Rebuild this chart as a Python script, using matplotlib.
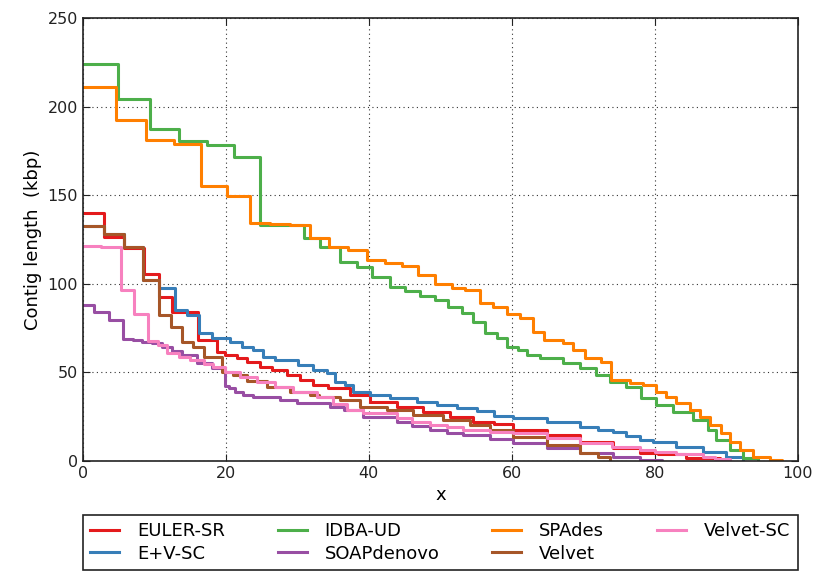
import numpy as np
import matplotlib
matplotlib.use("Agg")
import matplotlib.pyplot as plt

# step start positions (x) and contig lengths (kbp)
euler_x = [0, 2.9, 5.7, 8.5, 10.7, 12.5, 16.1, 18.7, 19.9, 21.5, 22.9, 24.8, 26.4, 28.5, 30.3, 32.2,
           34.3, 37.3, 40.1, 43.9, 47.6, 51.3, 54.6, 57.5, 60.2, 64.9, 69.5, 74.1, 77.9, 80.5, 84.4, 89.1]
euler_y = [139.8, 126.6, 120, 105.4, 92.7, 83.9, 68.3, 61.7, 59.8, 58, 56, 53.2, 51.4, 48.5, 45.7, 42.9,
           41, 37.2, 33.5, 30.7, 27.8, 25, 22.2, 21, 17.5, 14.7, 10.9, 7.2, 4.3, 3.8, 1.5, 0]

evsc_x = [0, 2.9, 5.7, 8.4, 10.7, 12.9, 14.6, 16.3, 18.0, 20.6, 22.2, 23.8, 25.2, 26.9, 30.1, 32.2, 34.1,
          35.2, 36.6, 37.8, 40.1, 42.9, 46.7, 49.5, 52.3, 55.1, 57.5, 60.2, 64.9, 69.5, 72, 74.1, 76,
          77.9, 79.8, 83, 86.8, 90, 92.3]
evsc_y = [132.8, 127.9, 120.9, 102.1, 97.5, 85.2, 82.4, 72.1, 69.2, 67.3, 64.5, 62.6, 58.9, 57, 54.2,
          51.4, 49.5, 44.8, 42.9, 39.1, 37.2, 35.4, 33.5, 31.6, 29.7, 28.0, 25.5, 24.1, 22.2, 19.4, 17.5,
          16.5, 14, 11.9, 10.9, 8.1, 5.2, 2.4, 0]

idba_x = [0, 4.94, 9.37, 13.4, 17.3, 21.1, 24.8, 30.9, 33.2, 35.9, 38.3, 40.5, 42.9, 45, 47.1, 49.2,
          51.1, 53, 54.6, 56.2, 57.9, 59.3, 60.9, 62.1, 64, 67.2, 69.5, 71.8, 73.7, 76, 78.1, 80.2,
          82.6, 85.4, 87.5, 88.6, 90.5, 92.3, 94.5]
idba_y = [224, 204.3, 187.4, 180.8, 178.3, 171.7, 133.2, 125.7, 120.9, 112.5, 109.7, 104, 98, 96.1,
          93.3, 90.9, 87.1, 83.4, 78.6, 72.1, 69.2, 64.5, 62.6, 59.8, 58, 55.1, 52.3, 48.5, 44.8, 41.9,
          35.4, 31.6, 27.8, 23.1, 17.5, 11.9, 6.2, 1.5, 0]

soap_x = [0, 1.54, 3.68, 5.55, 6.95, 8.2, 9.6, 11, 12.5, 13.8, 16, 18, 19.9, 20.5, 21.3, 22.4, 23.8,
          27.6, 29.9, 34.5, 36.5, 39.2, 43.9, 46, 48.5, 51, 53.2, 56.9, 60.2, 64.9, 69.5, 74.1, 77.9, 81]
soap_y = [88, 83.9, 79.6, 68.8, 68.3, 67.3, 66.4, 64.5, 62.1, 60, 55.1, 52.3, 42.3, 41, 39.1, 37.2,
          36.3, 34.4, 32.6, 30.6, 28.8, 25, 22.2, 20, 17.5, 16, 14.7, 12.5, 10, 7.2, 4.3, 2.4, 0.8, 0]

spades_x = [0, 4.57, 8.77, 12.7, 16.5, 20.1, 23.3, 26.1, 29, 31.7, 34.4, 37.1, 39.7, 42.2, 44.6, 46.9,
            49.2, 51.6, 53.4, 55.5, 57.4, 59.3, 61.1, 63, 64.5, 67.2, 68.6, 70.2, 72.5, 73.9, 76.5,
            78.4, 80.2, 81.6, 83, 84.9, 86.3, 87.7, 89.3, 90.5, 91.9, 93.8, 96.1, 97.8]
spades_y = [210.9, 192.4, 181.2, 178.9, 155.4, 149.7, 134.5, 133.7, 133.2, 125.7, 120.9, 119.1, 113.4,
            111.9, 110.2, 105, 99.7, 97.8, 96.5, 89, 87.1, 82.8, 80.5, 72.6, 68.3, 66.4, 62.6, 58, 56,
            45.7, 43.8, 42.9, 39.1, 36.3, 32.6, 28.8, 25, 20.3, 15.6, 10.9, 6.2, 2.4, 0.6, 0]

velvet_x = [0, 2.9, 5.7, 8.4, 10.7, 12.3, 13.9, 15.4, 16.9, 19.4, 21, 23, 25.7, 29, 31.7, 33, 35.9,
            38.7, 42.5, 46.2, 50.4, 54.1, 56.9, 60.2, 64.9, 69.5, 72, 73.7]
velvet_y = [132.8, 127.9, 120.9, 102.1, 82.4, 75.8, 67.3, 64.5, 58.9, 50.4, 48.5, 45, 41.9, 39.1,
            37.2, 36.3, 34.4, 30.6, 28.8, 26, 23.1, 20.3, 17.5, 13.7, 9, 4.3, 2, 0]

vsc_x = [0, 2.5, 5.3, 7.2, 9.1, 10.5, 11.8, 13.5, 15, 17, 18.2, 19.9, 22, 24.3, 26.9, 29.4, 32.7, 35,
         37, 39.2, 43.9, 46, 48.5, 51, 53.2, 57, 60.2, 64.9, 69.5, 74, 78, 80, 83, 86.8, 88.5, 90.5]
vsc_y = [121.5, 120.6, 96.5, 82.8, 67.7, 65.5, 60.8, 58.5, 57, 55, 53.2, 50.4, 47.6, 44.8, 41.9, 39.1,
         36.3, 32, 29, 26.9, 24.1, 22, 20.3, 19, 17.5, 16.5, 15.6, 12.8, 10, 8.1, 6.5, 5.2, 4, 2.4, 1, 0]

series = [
    ("EULER-SR", euler_x, euler_y, "#e41a1c"),
    ("E+V-SC", evsc_x, evsc_y, "#377eb8"),
    ("IDBA-UD", idba_x, idba_y, "#4daf4a"),
    ("SOAPdenovo", soap_x, soap_y, "#984ea3"),
    ("SPAdes", spades_x, spades_y, "#ff7f00"),
    ("Velvet", velvet_x, velvet_y, "#a65628"),
    ("Velvet-SC", vsc_x, vsc_y, "#f781bf"),
]

fig = plt.figure(figsize=(8.3, 5.72), dpi=100)
ax = fig.add_axes([0.1, 0.194, 0.861, 0.7745])

for name, xs, ys, col in series:
    ax.plot(xs, ys, drawstyle="steps-post", color=col, lw=2.2, label=name)

ax.set_xlim(0, 100)
ax.set_ylim(0, 250)
ax.set_xticks(np.arange(0, 101, 20))
ax.set_yticks(np.arange(0, 251, 50))
ax.grid(True, color="#333333", linestyle=(0, (1, 3)), linewidth=0.8)
ax.tick_params(direction="in", labelsize=11.5, length=5, top=True, right=True, colors="#222222")
for s in ax.spines.values():
    s.set_linewidth(1.2)
    s.set_color("#222222")
ax.set_xlabel("x", fontsize=13)
ax.set_ylabel("Contig length  (kbp)", fontsize=13)

# legend box sits under the axes, spanning its full width
leg = ax.legend(loc="upper left", bbox_to_anchor=(0, -0.222, 1.0, 0.1), mode="expand", ncol=4,
                fontsize=13, handlelength=1.6, handletextpad=1.0, borderaxespad=0,
                labelspacing=0.25, fancybox=False, framealpha=1)
leg.get_frame().set_edgecolor("#222222")
leg.get_frame().set_linewidth(1.2)

fig.savefig("out.png", dpi=100)
